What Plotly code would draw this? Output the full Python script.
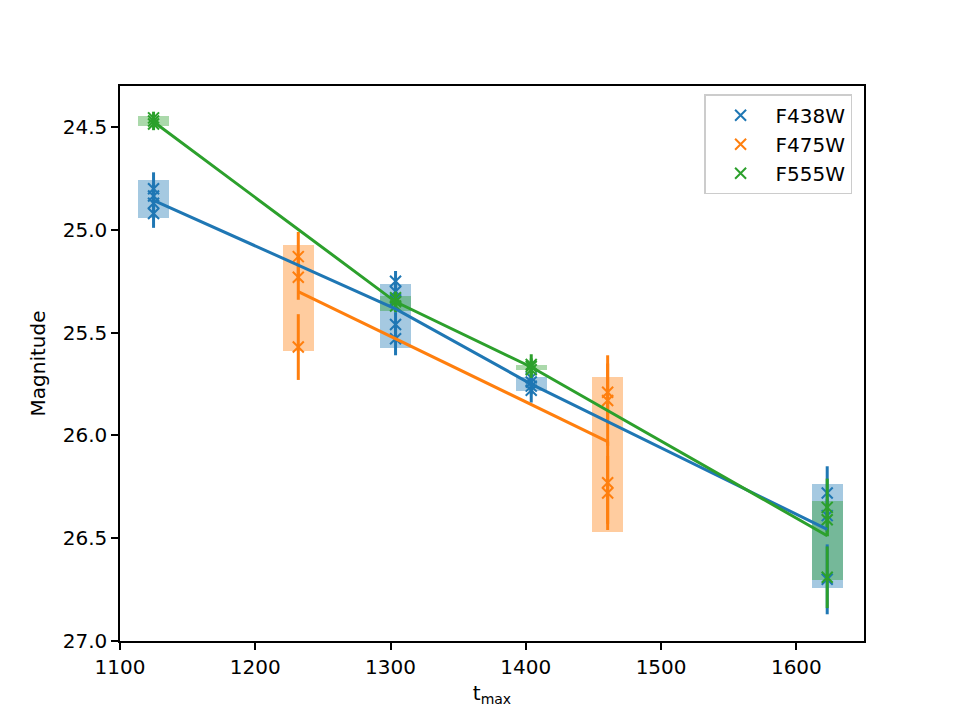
import plotly.graph_objects as go

# ---------------- data ----------------
filters = ["F438W", "F475W", "F555W"]
colors = ["#1f77b4", "#ff7f0e", "#2ca02c"]

# F438W individual measurements
f438_t = [1124.8, 1124.8, 1124.8, 1124.8,
          1303.7, 1303.7, 1303.7, 1303.7, 1303.7,
          1404.0, 1404.0, 1404.0, 1404.0,
          1622.8, 1622.8, 1622.8]
f438_mag = [24.80, 24.835, 24.87, 24.92,
            25.25, 25.30, 25.34, 25.46, 25.53,
            25.72, 25.74, 25.76, 25.78,
            26.28, 26.39, 26.70]
f438_err = [0.08, 0.06, 0.06, 0.07,
            0.05, 0.05, 0.05, 0.06, 0.08,
            0.03, 0.04, 0.04, 0.06,
            0.13, 0.08, 0.17]
f438_epoch = [1124.8, 1303.7, 1404.0, 1622.8]
f438_mean = [24.856, 25.384, 25.75, 26.457]
f438_lo = [24.758, 25.265, 25.717, 26.237]
f438_hi = [24.94, 25.573, 25.785, 26.74]

# F475W individual measurements
f475_t = [1231.8, 1231.8, 1231.8,
          1460.5, 1460.5, 1460.5, 1460.5]
f475_mag = [25.13, 25.23, 25.57,
            25.79, 25.83, 26.23, 26.28]
f475_err = [0.12, 0.11, 0.16,
            0.14, 0.22, 0.20, 0.18]
f475_epoch = [1231.8, 1460.5]
f475_mean = [25.30, 26.03]
f475_lo = [25.075, 25.717]
f475_hi = [25.587, 26.472]

# F555W individual measurements
f555_t = [1124.8, 1124.8, 1124.8,
          1303.7, 1303.7, 1303.7,
          1404.0, 1404.0, 1404.0,
          1622.8, 1622.8, 1622.8]
f555_mag = [24.455, 24.47, 24.485,
            25.33, 25.35, 25.37,
            25.655, 25.665, 25.68,
            26.35, 26.41, 26.69]
f555_err = [0.03, 0.03, 0.03,
            0.03, 0.03, 0.03,
            0.05, 0.04, 0.04,
            0.14, 0.08, 0.15]
f555_epoch = [1124.8, 1303.7, 1404.0, 1622.8]
f555_mean = [24.474, 25.35, 25.667, 26.488]
f555_lo = [24.446, 25.324, 25.655, 26.318]
f555_hi = [24.495, 25.397, 25.68, 26.705]

x_ticks = [1100, 1200, 1300, 1400, 1500, 1600]
y_ticks = [24.5, 25.0, 25.5, 26.0, 26.5, 27.0]

# ---------------- figure ----------------
series = [
    (f438_t, f438_mag, f438_err, f438_epoch, f438_mean, f438_lo, f438_hi),
    (f475_t, f475_mag, f475_err, f475_epoch, f475_mean, f475_lo, f475_hi),
    (f555_t, f555_mag, f555_err, f555_epoch, f555_mean, f555_lo, f555_hi),
]

fig = go.Figure()
FONT = "DejaVu Sans, Liberation Sans, sans-serif"
BOX_W = 23.0

# shaded spans (drawn underneath)
for name, col, s in zip(filters, colors, series):
    _, _, _, ep, _, lo, hi = s
    fig.add_trace(go.Bar(
        x=ep, y=[h - l for l, h in zip(lo, hi)], base=lo, width=BOX_W,
        marker=dict(color=col, line=dict(width=0)), opacity=0.4,
        showlegend=False, hoverinfo="skip"))

# measurements with error bars
for name, col, s in zip(filters, colors, series):
    t, m, e, _, _, _, _ = s
    fig.add_trace(go.Scatter(
        x=t, y=m, mode="markers", name=name,
        marker=dict(symbol="x-thin", size=11, color=col,
                    line=dict(width=2, color=col)),
        error_y=dict(type="data", array=e, visible=True,
                     thickness=3, width=0, color=col)))

# mean lines
for name, col, s in zip(filters, colors, series):
    _, _, _, ep, mn, _, _ = s
    fig.add_trace(go.Scatter(
        x=ep, y=mn, mode="lines", line=dict(color=col, width=3),
        showlegend=False, hoverinfo="skip"))

axis_common = dict(
    showline=True, linecolor="black", linewidth=1.5, mirror=True,
    ticks="outside", ticklen=7, tickwidth=1.5, tickcolor="black",
    showgrid=False, zeroline=False,
    tickfont=dict(family=FONT, size=20, color="black"),
)

fig.update_layout(
    width=960, height=720,
    margin=dict(l=120, r=96, t=86, b=79),
    paper_bgcolor="white", plot_bgcolor="white",
    barmode="overlay", bargap=0,
    font=dict(family=FONT, size=20, color="black"),
    xaxis=dict(range=[1100, 1650], tickvals=x_ticks,
               ticktext=[str(v) for v in x_ticks],
               title=dict(text="t<sub>max</sub>", standoff=8,
                          font=dict(family=FONT, size=20)),
               **axis_common),
    yaxis=dict(range=[27.0, 24.3], tickvals=y_ticks,
               ticktext=[f"{v:.1f}" for v in y_ticks],
               title=dict(text="Magnitude", standoff=12,
                          font=dict(family=FONT, size=20)),
               **axis_common),
    legend=dict(x=0.984, xanchor="right", y=0.985, yanchor="top",
                bordercolor="#cccccc", borderwidth=1.5,
                bgcolor="rgba(255,255,255,0.8)", itemwidth=60,
                font=dict(family=FONT, size=20)),
    showlegend=True,
)

fig.write_html("out.html")
